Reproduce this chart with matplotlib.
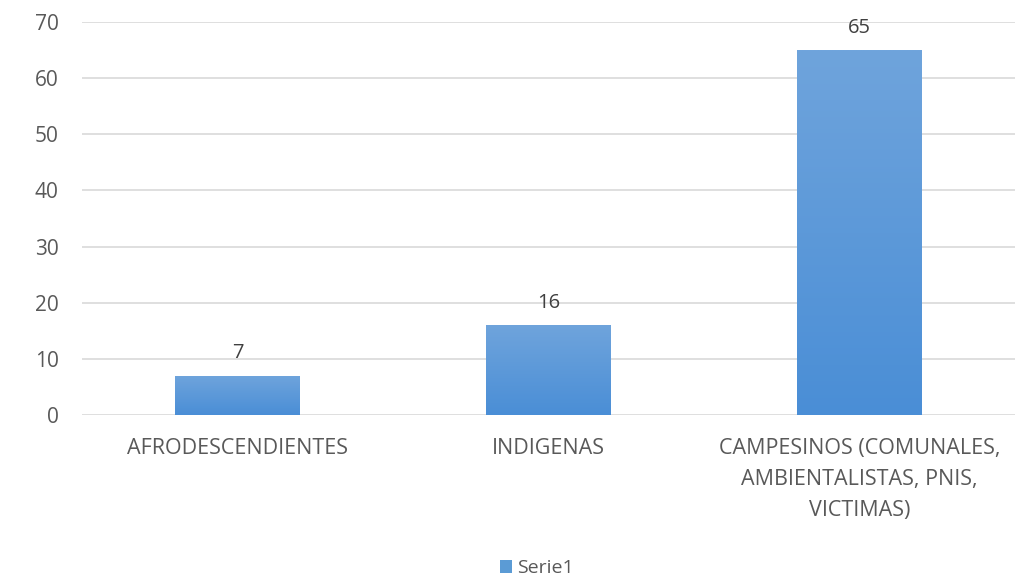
import numpy as np
import matplotlib
matplotlib.use("Agg")
from matplotlib import pyplot as plt
from matplotlib.colors import LinearSegmentedColormap

plt.rcParams['font.family'] = ['Open Sans', 'DejaVu Sans']

categorias = ['AFRODESCENDIENTES', 'INDIGENAS',
              'CAMPESINOS (COMUNALES,\nAMBIENTALISTAS, PNIS,\nVICTIMAS)']
valores = [7, 16, 65]
serie = 'Serie1'

gris = '#595959'
azul = '#5b9bd5'
degradado = LinearSegmentedColormap.from_list('azul', ['#4a8ed6', '#6fa4dc'])

fig = plt.figure(figsize=(10.15, 5.81), dpi=100)
ax = fig.add_axes([0.081, 0.286, 0.919, 0.676])

x = np.arange(len(valores))
barras = ax.bar(x, valores, width=0.4, color=azul, label=serie, zorder=2)

# relleno con degradado vertical dentro de cada barra
for b in barras:
    bx, by = b.get_x(), b.get_y()
    bw, bh = b.get_width(), b.get_height()
    grad = np.linspace(0, 1, 256).reshape(-1, 1)
    im = ax.imshow(grad, cmap=degradado, aspect='auto', origin='lower',
                   extent=[bx, bx + bw, by, by + bh], zorder=3)
    im.set_clip_path(b)

for xi, v in zip(x, valores):
    ax.text(xi, v + 2.2, str(v), ha='center', va='bottom', fontsize=14.5, color='#404040')

ax.set_xlim(-0.5, len(valores) - 0.5)
ax.set_ylim(0, 70)
ax.set_yticks(range(0, 71, 10))
ax.set_xticks(x)
ax.set_xticklabels(categorias, fontsize=15.5, color=gris, linespacing=1.62)
ax.tick_params(axis='y', labelsize=15, labelcolor=gris, length=0, pad=17)
ax.tick_params(axis='x', length=0, pad=17)
ax.grid(axis='y', color='#d9d9d9', linewidth=1.2, zorder=0)
for s in ax.spines.values():
    s.set_visible(False)

fig.legend(handles=[barras], labels=[serie], loc='center', bbox_to_anchor=(0.529, 0.022),
           frameon=False, fontsize=14, labelcolor=gris, handlelength=0.6, handleheight=0.6,
           handletextpad=0.3)

fig.savefig('out.png', dpi=100)
